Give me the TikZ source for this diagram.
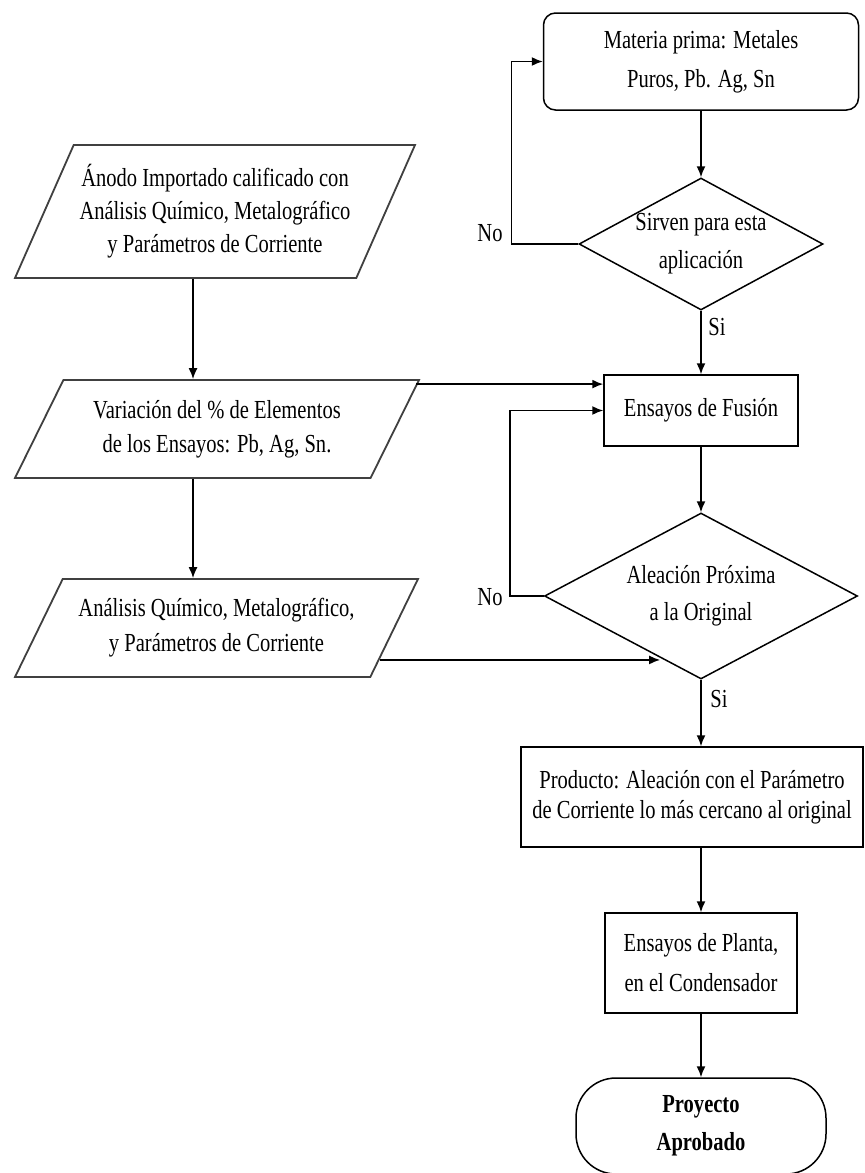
\documentclass[tikz,border=0pt]{standalone}
\usepackage{fontspec}
\setmainfont{Liberation Serif}[FakeStretch=0.79]
\usetikzlibrary{shapes.geometric,arrows.meta,calc}

\begin{document}
\begin{tikzpicture}[x=1pt,y=-1pt,
  every node/.style={font=\fontsize{26}{36}\selectfont, align=center, inner sep=0pt},
  caja/.style={draw, line width=1.5pt, rectangle},
  redonda/.style={draw, line width=1.5pt, rectangle, rounded corners=12pt},
  rombo/.style={draw, line width=1.5pt, diamond},
  datos/.style={draw=black!75, line width=1.8pt, trapezium, trapezium stretches body},
  fin/.style={draw, line width=1.5pt, rectangle, rounded corners=40pt, font=\fontsize{26}{36}\selectfont\bfseries},
  flecha/.style={line width=1.5pt, -{Latex[length=11pt,width=9pt]}}]

\path[use as bounding box, fill=white] (0,0) rectangle (865,1173);

\node[redonda, minimum width=315, minimum height=97] (materia) at (701,61.5) {Materia prima: Metales\\[3pt] Puros, Pb. Ag, Sn};
\node[rombo, aspect=1.85, minimum width=244, minimum height=132] (sirven) at (701,244) {Sirven para esta\\[2pt] aplicaci\'on};
\node[caja, minimum width=194, minimum height=71] (fusion) at (701,410.5) {Ensayos de Fusi\'on};
\node[rombo, aspect=1.89, minimum width=313, minimum height=166] (aleacion) at (701,596) {Aleaci\'on Pr\'oxima\\[1pt] a la Original};
\node[caja, minimum width=342, minimum height=100] (producto) at (692,797) {Producto: Aleaci\'on con el Par\'ametro\\[-6pt] de Corriente lo m\'as cercano al original};
\node[caja, minimum width=192, minimum height=100] (planta) at (701,963) {Ensayos de Planta,\\[4pt] en el Condensador};
\node[fin, minimum width=250, minimum height=96] (proyecto) at (701,1126) {Proyecto\\[2pt] Aprobado};

\node[datos, trapezium left angle=58, trapezium right angle=122, minimum width=400, minimum height=133] (anodo) at (215,211.5) {\'Anodo Importado calificado con\\[-3pt] An\'alisis Qu\'imico, Metalogr\'afico\\[-3pt] y Par\'ametros de Corriente};
\node[datos, trapezium left angle=50, trapezium right angle=130, minimum width=404, minimum height=98] (variacion) at (217,429) {Variaci\'on del \% de Elementos\\[-2pt] de los Ensayos: Pb, Ag, Sn.};
\node[datos, trapezium left angle=51, trapezium right angle=129, minimum width=403, minimum height=98] (analisis) at (216.5,628) {An\'alisis Qu\'imico, Metalogr\'afico,\\[-1pt] y Par\'ametros de Corriente};

\node (no1) at (490,233) {No};
\node (si1) at (717,327) {Si};
\node (no2) at (490,597) {No};
\node (si2) at (719,699) {Si};

\draw[flecha] (materia.south) -- (sirven.north);
\draw[flecha] (sirven.west) -- ++(-67,0) |- (materia.west);
\draw[flecha] (sirven.south) -- (fusion.north);
\draw[flecha] ($(variacion.top right corner)+(-4,5)$) coordinate (v1) -- (v1 -| fusion.west);
\draw[flecha] (aleacion.west) -- ++(-34,0) |- (fusion.west);
\draw[flecha] (fusion.south) -- (aleacion.north);
\coordinate (a2) at ($(aleacion.west)!0.74!(aleacion.south)$);
\coordinate (a1) at ($(analisis.top right corner)!0.82!(analisis.bottom right corner)$);
\draw[flecha] (a1) -- (a1 -| a2);
\draw[flecha] (aleacion.south) -- (aleacion.south |- producto.north);
\draw[flecha] (planta.north |- producto.south) -- (planta.north);
\draw[flecha] (planta.south) -- (proyecto.north);

\draw[flecha] ([xshift=-22pt]anodo.south) -- ([xshift=-22pt]anodo.south |- variacion.north);
\draw[flecha] ([xshift=-24pt]variacion.south) -- ([xshift=-24pt]variacion.south |- analisis.north);

\end{tikzpicture}
\end{document}
